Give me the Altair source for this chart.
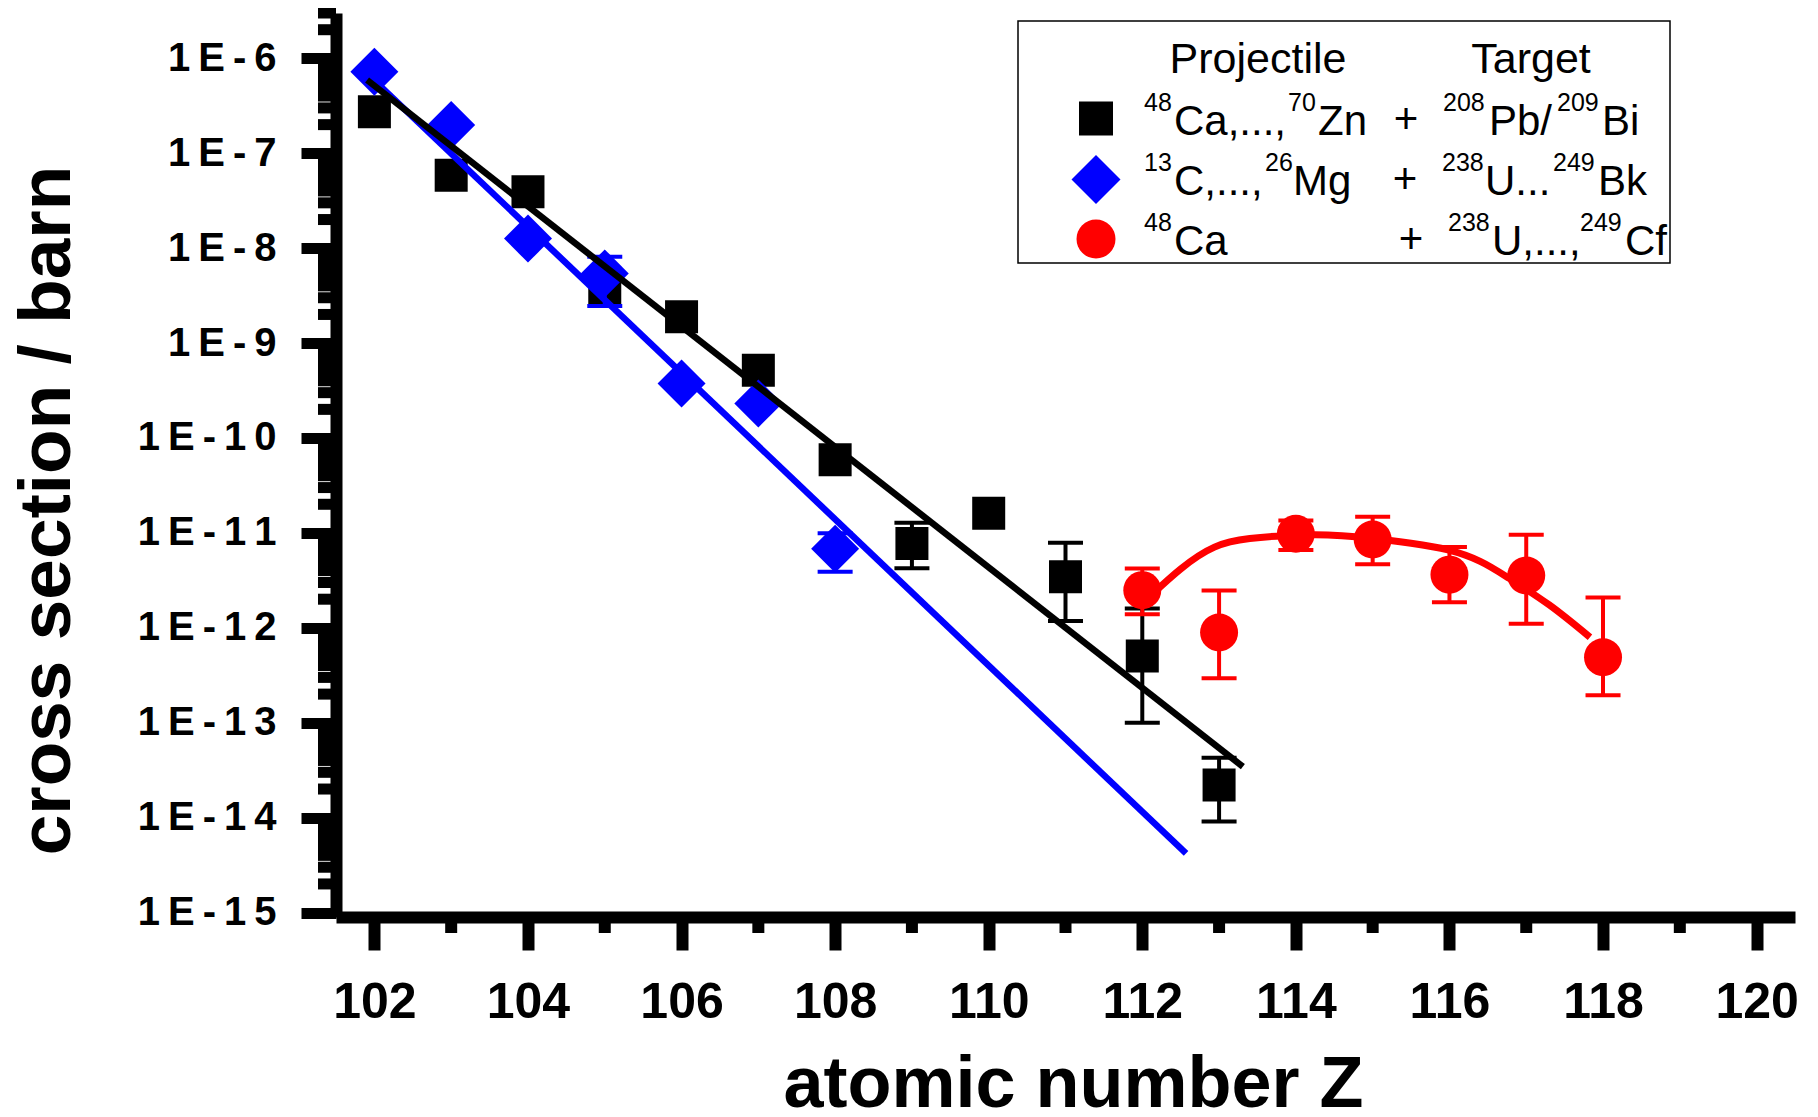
import math
import altair as alt
import pandas as pd

# ------------------------------------------------------------------ data
Z_BLACK = [102, 103, 104, 105, 106, 107, 108, 109, 110, 111, 112, 113]
SIG_BLACK = [2.74e-7, 5.87e-8, 3.92e-8, 3.76e-9, 1.89e-9, 5.18e-10, 5.89e-11,
             7.71e-12, 1.61e-11, 3.44e-12, 5.04e-13, 2.21e-14]
ERR_Z_BLACK = [109, 111, 112, 113]
ERR_HI_BLACK = [1.28e-11, 7.85e-12, 1.60e-12, 4.27e-14]
ERR_LO_BLACK = [4.23e-12, 1.18e-12, 9.98e-14, 9.10e-15]

Z_BLUE = [102, 103, 104, 105, 106, 107, 108]
SIG_BLUE = [7.21e-7, 1.98e-7, 1.26e-8, 5.41e-9, 3.74e-10, 2.31e-10, 6.82e-12]
ERR_Z_BLUE = [105, 108]
ERR_HI_BLUE = [8.1e-9, 9.9e-12]
ERR_LO_BLUE = [2.45e-9, 3.9e-12]

Z_RED = [112, 113, 114, 115, 116, 117, 118]
SIG_RED = [2.49e-12, 8.93e-13, 9.77e-12, 8.51e-12, 3.63e-12, 3.55e-12, 4.90e-13]
ERR_HI_RED = [4.2e-12, 2.47e-12, 1.35e-11, 1.48e-11, 7.08e-12, 9.55e-12, 2.09e-12]
ERR_LO_RED = [1.39e-12, 2.94e-13, 6.6e-12, 4.68e-12, 1.86e-12, 1.10e-12, 1.95e-13]

FIT_BLACK_Z = [101.905, 113.31]
FIT_BLACK_SIG = [5.90e-7, 3.44e-14]
FIT_BLUE_Z = [101.80, 112.57]
FIT_BLUE_SIG = [8.32e-7, 4.19e-15]

CURVE_RED_Z = [112.15, 112.5, 112.94, 113.4, 113.84, 114.25, 114.6, 115.03,
               115.5, 115.98, 116.4, 116.76, 117.3, 117.83]
CURVE_RED_SIG = [2.34e-12, 4.17e-12, 7.08e-12, 8.71e-12, 9.33e-12, 9.55e-12,
                 9.33e-12, 8.71e-12, 7.76e-12, 6.61e-12, 5.01e-12, 3.39e-12,
                 1.74e-12, 7.94e-13]

X_TICKS = [102, 104, 106, 108, 110, 112, 114, 116, 118, 120]
X_MINOR = [103, 105, 107, 109, 111, 113, 115, 117, 119]
Y_TICKS = [1e-15, 1e-14, 1e-13, 1e-12, 1e-11, 1e-10, 1e-9, 1e-8, 1e-7, 1e-6]
Y_TICK_LABELS = ["1E-15", "1E-14", "1E-13", "1E-12", "1E-11", "1E-10",
                 "1E-9", "1E-8", "1E-7", "1E-6"]
Y_MINOR = [m * 10.0 ** e for e in range(-15, -6 + 1) for m in range(2, 10)
           if m * 10.0 ** e <= 3.0001e-6]

X_TITLE = "atomic number Z"
Y_TITLE = "cross section / barn"

LEG_HEAD = ["Projectile", "Target"]
LEG_ROWS_MAIN = [["Ca,...,", "Zn", "Pb/", "Bi"],
                 ["C,...,", "Mg", "U...", "Bk"],
                 ["Ca", "U,...,", "Cf"]]
LEG_ROWS_SUP = [["48", "70", "208", "209"],
                ["13", "26", "238", "249"],
                ["48", "238", "249"]]

# ------------------------------------------------------------------ layout (pixels)
W, H = 1459, 904
FONT = "Liberation Sans"

LEG_HEAD_X = [922, 1195]
LEG_HEAD_Y = 60
LEG_MAIN_X = [[838, 982, 1153, 1266], [838, 957, 1149, 1262], [838, 1156, 1289]]
LEG_SUP_X = [[808, 952, 1107, 1221], [808, 929, 1106, 1217], [808, 1112, 1244]]
LEG_BASE_Y = [122, 182, 242]
LEG_PLUS_X = [1070, 1069, 1075]

# ------------------------------------------------------------------ scales / axes
xs = alt.Scale(domain=[101.5, 120.5], nice=False, zero=False)
ys = alt.Scale(type="log", domain=[8.97e-16, 3.0e-6], nice=False)

lab_arr = [""] * 16
for v, t in zip(Y_TICKS, Y_TICK_LABELS):
    lab_arr[int(round(-math.log10(v)))] = "\u2009".join(list(t))
label_expr = ("[" + ",".join("'" + s + "'" for s in lab_arr) +
              "][round(-log(datum.value)/LN10)]")

x_axis = alt.Axis(values=X_TICKS, format="d", tickSize=33, tickWidth=12, tickColor="black",
                  domainWidth=12, domainColor="black", grid=False,
                  labelFont=FONT, labelFontWeight="bold", labelFontSize=50,
                  labelColor="black", labelPadding=27, labelFlush=False, labelOverlap=False,
                  title=X_TITLE, titleFont=FONT, titleFontWeight="bold", titleFontSize=72,
                  titleColor="black", titleX=737, titleY=189, titleBaseline="alphabetic",
                  titleAlign="center")
y_axis = alt.Axis(values=Y_TICKS, tickSize=35, tickWidth=11, tickColor="black",
                  domainWidth=12, domainColor="black", grid=False,
                  labelExpr=label_expr, labelFont=FONT, labelFontWeight="bold",
                  labelFontSize=40, labelColor="black", labelPadding=25,
                  labelFlush=False, labelOverlap=False,
                  title=Y_TITLE, titleFont=FONT, titleFontWeight="bold", titleFontSize=73,
                  titleColor="black", titleX=-267, titleY=497, titleAngle=270,
                  titleBaseline="alphabetic", titleAlign="center")


def X(f):
    return alt.X(f, scale=xs, axis=x_axis)


def Y(f):
    return alt.Y(f, scale=ys, axis=y_axis)


def pts(zs, ss):
    return pd.DataFrame({"z": zs, "s": ss})


def errs(zs, lo, hi):
    return pd.DataFrame({"z": zs, "lo": lo, "hi": hi})


def err_layers(df, color):
    base = alt.Chart(df)
    bar = base.mark_rule(color=color, strokeWidth=4).encode(
        x=X("z:Q"), y=Y("lo:Q"), y2="hi:Q")
    cap_hi = base.mark_tick(color=color, orient="horizontal", size=35, thickness=4,
                            opacity=1).encode(x=X("z:Q"), y=Y("hi:Q"))
    cap_lo = base.mark_tick(color=color, orient="horizontal", size=35, thickness=4,
                            opacity=1).encode(x=X("z:Q"), y=Y("lo:Q"))
    return [bar, cap_hi, cap_lo]


def markers(df, shape, size, color):
    return alt.Chart(df).mark_point(shape=shape, size=size, filled=True, color=color,
                                    opacity=1, strokeWidth=0).encode(
        x=X("z:Q"), y=Y("s:Q"))


def fitline(df, color, width, interp="linear"):
    return alt.Chart(df).mark_line(color=color, strokeWidth=width,
                                   interpolate=interp).encode(x=X("z:Q"), y=Y("s:Q"))


# minor ticks
y_minor = alt.Chart(pd.DataFrame({"v": Y_MINOR})).mark_rule(
    color="black", strokeWidth=11).encode(y=Y("v:Q"), x=alt.value(-18), x2=alt.value(0))
x_minor = alt.Chart(pd.DataFrame({"z": X_MINOR})).mark_rule(
    color="black", strokeWidth=12).encode(x=X("z:Q"), y=alt.value(H), y2=alt.value(H + 16))

layers = [y_minor, x_minor]
layers += err_layers(errs(ERR_Z_BLACK, ERR_LO_BLACK, ERR_HI_BLACK), "black")
layers.append(markers(pts(Z_BLACK, SIG_BLACK), "square", 1089, "black"))
layers += err_layers(errs(ERR_Z_BLUE, ERR_LO_BLUE, ERR_HI_BLUE), "#0000ff")
layers.append(markers(pts(Z_BLUE, SIG_BLUE), "diamond", 2304, "#0000ff"))
layers.append(fitline(pts(FIT_BLUE_Z, FIT_BLUE_SIG), "#0000ff", 6.5))
layers.append(fitline(pts(FIT_BLACK_Z, FIT_BLACK_SIG), "black", 6.5))
layers += err_layers(errs(Z_RED, ERR_LO_RED, ERR_HI_RED), "#ff0000")
layers.append(markers(pts(Z_RED, SIG_RED), "circle", 1444, "#ff0000"))
layers.append(fitline(pts(CURVE_RED_Z, CURVE_RED_SIG), "#ff0000", 7, "natural"))

# ------------------------------------------------------------------ legend
one = pd.DataFrame({"k": [0]})
layers.append(alt.Chart(one).mark_rect(fill="white", stroke="black", strokeWidth=1.5).encode(
    x=alt.value(682), x2=alt.value(1334), y=alt.value(8), y2=alt.value(250)))
for shape, size, color, yy in [("square", 1156, "black", 105.5),
                               ("diamond", 2401, "#0000ff", 166.5),
                               ("circle", 1521, "#ff0000", 226)]:
    layers.append(alt.Chart(one).mark_point(shape=shape, size=size, filled=True, color=color,
                                            opacity=1, strokeWidth=0).encode(
        x=alt.value(760), y=alt.value(yy)))


def txt(t, x, y, size, align):
    return alt.Chart(one).mark_text(font=FONT, fontSize=size, align=align,
                                    baseline="alphabetic", color="black").encode(
        x=alt.value(x), y=alt.value(y), text=alt.value(t))


for t, x in zip(LEG_HEAD, LEG_HEAD_X):
    layers.append(txt(t, x, LEG_HEAD_Y, 43, "center"))
for r in range(3):
    for t, x in zip(LEG_ROWS_MAIN[r], LEG_MAIN_X[r]):
        layers.append(txt(t, x, LEG_BASE_Y[r], 42, "left"))
    for t, x in zip(LEG_ROWS_SUP[r], LEG_SUP_X[r]):
        layers.append(txt(t, x, LEG_BASE_Y[r] - 24, 25, "left"))
    layers.append(txt("+", LEG_PLUS_X[r], LEG_BASE_Y[r] - 2, 42, "center"))

chart = alt.layer(*layers).properties(
    width=W, height=H,
    padding={"left": 328, "top": 5, "right": 15, "bottom": 192},
    autosize=alt.AutoSizeParams(type="none"),
    background="white",
).configure_view(stroke=None)

chart.save("out.html", embed_options={"renderer": "svg", "actions": False})
